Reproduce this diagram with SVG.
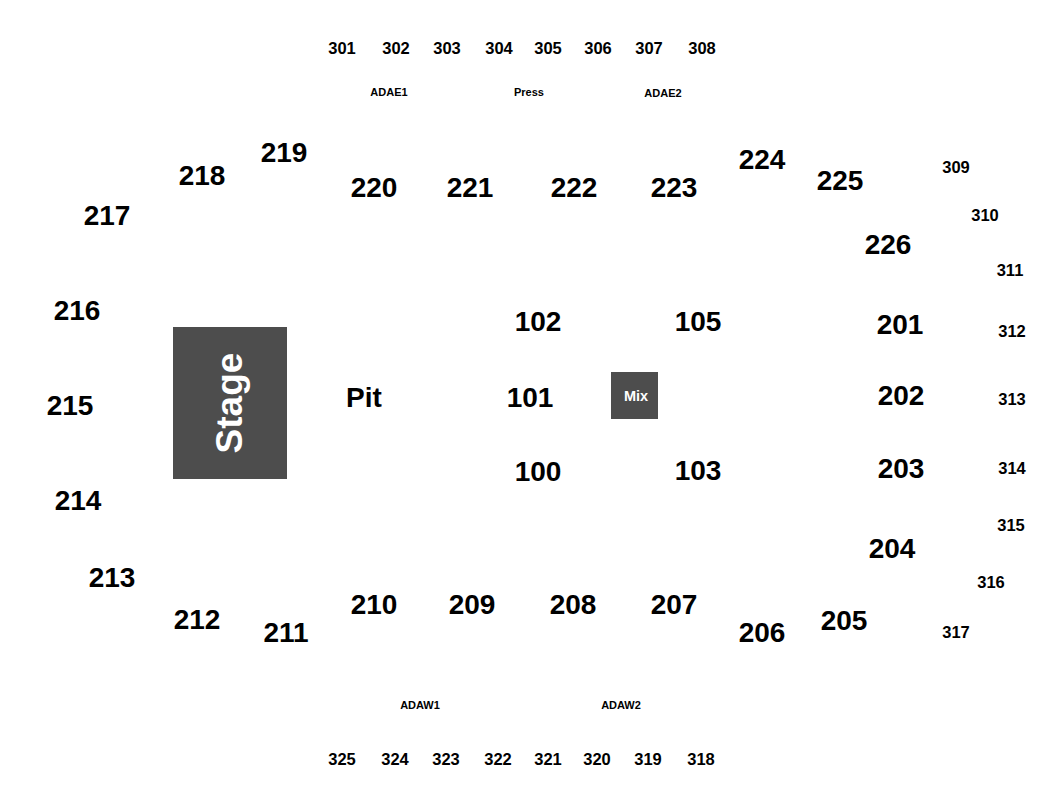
<svg xmlns="http://www.w3.org/2000/svg" width="1050" height="800" viewBox="0 0 1050 800">
<style>
text{font-family:"Liberation Sans",Arial,sans-serif;font-weight:bold;text-anchor:middle;fill:#000}
.b{font-size:28px}
.m{font-size:16.5px}
.s{font-size:11px}
.w{fill:#fff}
.box{fill:#4d4d4d}
</style>
<rect width="1050" height="800" fill="#fff"/>
<g id="stage"><rect class="box" x="173" y="327" width="114" height="152"/><text class="w" font-size="37" transform="translate(242,403) rotate(-90)">Stage</text></g>
<g id="mix"><rect class="box" x="611" y="372" width="47" height="47"/><text class="w" font-size="14.5" x="636" y="401">Mix</text></g>
<g id="connectors"></g>
<g id="floor">
<text class="b" x="364" y="407" font-size="26">Pit</text>
<text class="b" x="530" y="407" font-size="27">101</text>
<text class="b" x="538" y="331">102</text>
<text class="b" x="698" y="331">105</text>
<text class="b" x="538" y="481">100</text>
<text class="b" x="698" y="480">103</text>
</g>
<g id="sec200">
<text class="b" x="284" y="162">219</text>
<text class="b" x="202" y="185">218</text>
<text class="b" x="107" y="225">217</text>
<text class="b" x="77" y="320">216</text>
<text class="b" x="70" y="415">215</text>
<text class="b" x="78" y="510">214</text>
<text class="b" x="112" y="587">213</text>
<text class="b" x="197" y="629">212</text>
<text class="b" x="286" y="642">211</text>
<text class="b" x="374" y="614">210</text>
<text class="b" x="472" y="614">209</text>
<text class="b" x="573" y="614">208</text>
<text class="b" x="674" y="614">207</text>
<text class="b" x="762" y="642">206</text>
<text class="b" x="844" y="630">205</text>
<text class="b" x="892" y="558">204</text>
<text class="b" x="901" y="478">203</text>
<text class="b" x="901" y="405">202</text>
<text class="b" x="900" y="334">201</text>
<text class="b" x="888" y="254">226</text>
<text class="b" x="840" y="190">225</text>
<text class="b" x="762" y="169">224</text>
<text class="b" x="674" y="197">223</text>
<text class="b" x="574" y="197">222</text>
<text class="b" x="470" y="197">221</text>
<text class="b" x="374" y="197">220</text>
</g>
<g id="sec300">
<text class="m" x="342" y="54">301</text>
<text class="m" x="396" y="54">302</text>
<text class="m" x="447" y="54">303</text>
<text class="m" x="499" y="54">304</text>
<text class="m" x="548" y="54">305</text>
<text class="m" x="598" y="54">306</text>
<text class="m" x="649" y="54">307</text>
<text class="m" x="702" y="54">308</text>
<text class="m" x="956" y="173">309</text>
<text class="m" x="985" y="221">310</text>
<text class="m" x="1010" y="276">311</text>
<text class="m" x="1012" y="337">312</text>
<text class="m" x="1012" y="405">313</text>
<text class="m" x="1012" y="474">314</text>
<text class="m" x="1011" y="531">315</text>
<text class="m" x="991" y="588">316</text>
<text class="m" x="956" y="638">317</text>
<text class="m" x="701" y="765">318</text>
<text class="m" x="648" y="765">319</text>
<text class="m" x="597" y="765">320</text>
<text class="m" x="548" y="765">321</text>
<text class="m" x="498" y="765">322</text>
<text class="m" x="446" y="765">323</text>
<text class="m" x="395" y="765">324</text>
<text class="m" x="342" y="765">325</text>
</g>
<g id="ada">
<text class="s" x="389" y="96">ADAE1</text>
<text class="s" x="529" y="96">Press</text>
<text class="s" x="663" y="97">ADAE2</text>
<text class="s" x="420" y="709">ADAW1</text>
<text class="s" x="621" y="709">ADAW2</text>
</g>
</svg>
